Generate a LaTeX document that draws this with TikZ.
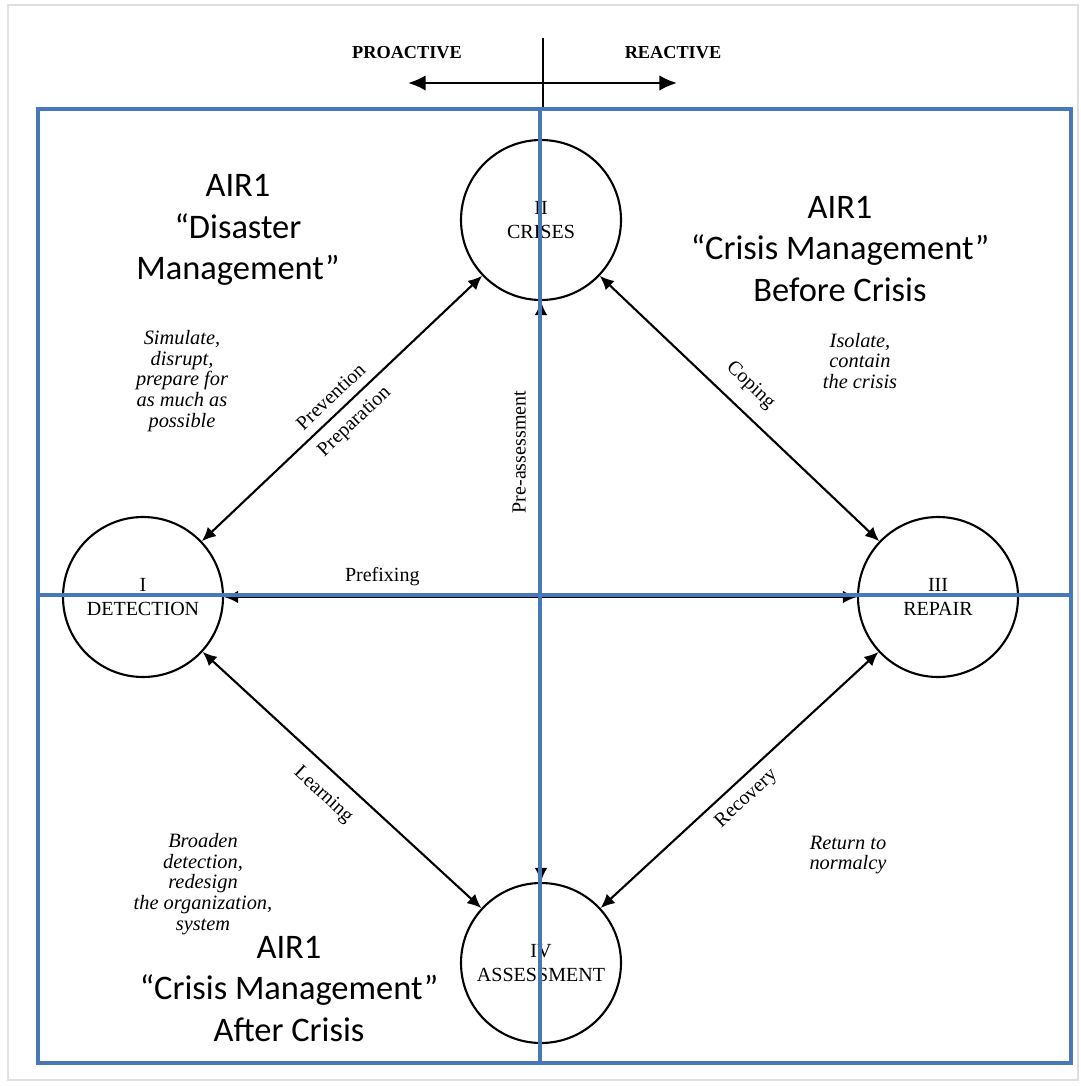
\documentclass[tikz,border=0pt]{standalone}
\usepackage{fontspec}
\setmainfont{Liberation Serif}
\newfontfamily\calibri{Carlito}
\usepackage{tikz}
\usetikzlibrary{arrows.meta, positioning}
\definecolor{quadBlue}{RGB}{70,120,186}
\tikzset{
  phase/.style={draw, circle, minimum size=1.6cm, inner sep=0pt, line width=0.6pt,
                align=center, font=\fontsize{5.7}{6.6}\selectfont},
  link/.style={{Latex[length=4pt, width=3.6pt]}-{Latex[length=4pt, width=3.6pt]},
               line width=0.6pt},
  linklbl/.style={sloped, font=\fontsize{5.7}{6.6}\selectfont, inner sep=2.5pt},
  note/.style={align=center, font=\itshape\fontsize{5.8}{5.9}\selectfont},
  quad/.style={quadBlue, line width=1.2pt},
  airtext/.style={align=center, text=black, font=\calibri\fontsize{9.8}{11.9}\selectfont},
}

\begin{document}
\begin{tikzpicture}[x=1cm, y=1cm]
  \useasboundingbox (0,0) rectangle (10.81,-10.86);
  % ----- page edge -----
  \draw[gray!25, line width=0.8pt] (0.08,-0.05) rectangle (10.78,-10.80);

  % ----- proactive / reactive axis -----
  \coordinate (pro) at (4.08,-0.83);
  \coordinate (rea) at (6.77,-0.83);
  \coordinate (axtop) at (5.43,-0.38);
  \coordinate (axbot) at (5.43,-1.10);
  \draw[line width=0.6pt] (axtop) -- (axbot);
  \draw[{Latex[length=5pt, width=4.4pt]}-{Latex[length=5pt, width=4.4pt]}, line width=0.7pt]
       (pro) -- (rea);
  \node[font=\bfseries\fontsize{5.2}{6}\selectfont] (prolbl) at (4.07,-0.53) {PROACTIVE};
  \node[font=\bfseries\fontsize{5.2}{6}\selectfont] (realbl) at (6.73,-0.53) {REACTIVE};

  % ----- four phases -----
  \node[phase] (cri) at (5.41,-2.20) {II\\ CRISES};
  \node[phase] (det) at (1.43,-5.97) {I\\ DETECTION};
  \node[phase] (rep) at (9.38,-5.97) {III\\ REPAIR};
  \node[phase] (ass) at (5.41,-9.63) {IV\\ ASSESSMENT};

  % ----- transitions -----
  \draw[link] (det) -- (cri)
       node[linklbl, midway, above] {Prevention}
       node[linklbl, midway, below] {Preparation};
  \draw[link] (cri) -- (rep) node[linklbl, pos=0.48, above, inner sep=4pt] {Coping};
  \draw[link] (det) -- (ass) node[linklbl, pos=0.49, below, inner sep=4pt] {Learning};
  \draw[link] (ass) -- (rep) node[linklbl, pos=0.48, below] {Recovery};
  \draw[link] (ass) -- (cri) node[linklbl, pos=0.74, above, inner sep=4pt] {Pre-assessment};
  \draw[link] (det) -- (rep) node[linklbl, pos=0.25, above, inner sep=3pt] {Prefixing};

  % ----- italic notes -----
  \node[note] (n1) at (1.82,-3.81) {Simulate,\\ disrupt,\\ prepare for\\ as much as\\ possible};
  \node[note] (n2) at (8.60,-3.61) {Isolate,\\ contain\\ the crisis};
  \node[note] (n3) at (2.03,-8.84) {Broaden\\ detection,\\ redesign\\ the organization,\\ system};
  \node[note] (n4) at (8.48,-8.55) {Return to\\ normalcy};

  % ----- blue quadrant overlay -----
  \draw[quad] (0.38,-1.09) rectangle (10.71,-10.63);
  \draw[quad] (5.40,-1.09) -- (5.40,-10.63);   % vertical split
  \draw[quad] (0.38,-5.95) -- (10.71,-5.95);   % horizontal split

  % ----- AIR1 labels -----
  \node[airtext] (air1) at (2.38,-2.30) {AIR1\\ “Disaster\\ Management”};
  \node[airtext] (air2) at (8.40,-2.49) {AIR1\\ “Crisis Management”\\ Before Crisis};
  \node[airtext] (air3) at (2.89,-9.89) {AIR1\\ “Crisis Management”\\ After Crisis};
\end{tikzpicture}
\end{document}
